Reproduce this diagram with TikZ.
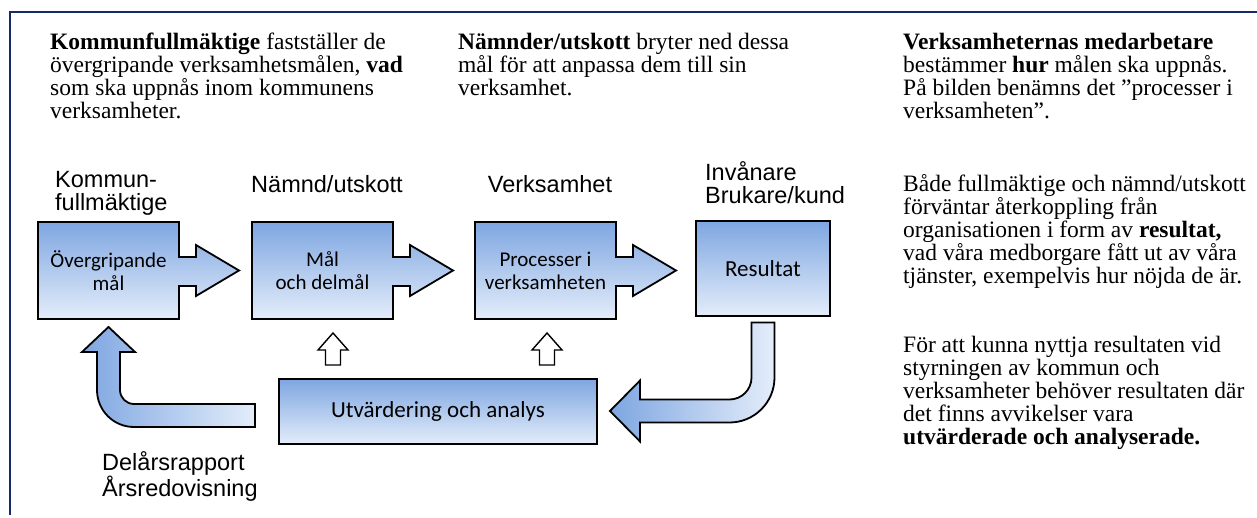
\documentclass[tikz,border=0pt]{standalone}
\usepackage{fontspec}
\setmainfont{Liberation Serif}
\newfontfamily\arialfont{Liberation Sans}
\newfontfamily\calibrifont{Carlito}
\usetikzlibrary{backgrounds}
\definecolor{navy}{RGB}{22,42,105}
\definecolor{bluetop}{RGB}{126,166,225}
\definecolor{bluebot}{RGB}{228,237,250}
\begin{document}
\begin{tikzpicture}[x=1pt, y=-1pt,
        txt/.style={anchor=north west, align=left, inner sep=0pt, font=\fontsize{23.5}{23}\selectfont},
        lbl/.style={inner sep=0pt, align=left, font=\arialfont\fontsize{23.5}{23}\selectfont},
        box/.style={inner sep=0pt, outer sep=0pt, align=center, font=\calibrifont\fontsize{21}{23}\selectfont},
        shaded/.style={draw=black, line width=1.8pt, top color=bluetop, bottom color=bluebot},
        shadedlr/.style={draw=black, line width=1.8pt, left color=bluetop, right color=bluebot},
        hollow/.style={draw=black, line width=1.4pt, fill=white}]
        \useasboundingbox (0,0) rectangle (1257,518);
        \draw[navy, line width=1.8pt] (10,515) -- (10,12) -- (1257,12);
        \node[txt] (council) at (50,33) {\textbf{Kommunfullmäktige} fastställer de\\övergripande verksamhetsmålen, \textbf{vad}\\som ska uppnås inom kommunens\\verksamheter.};
        \node[txt] (boards) at (458,33) {\textbf{Nämnder/utskott} bryter ned dessa\\mål för att anpassa dem till sin\\verksamhet.};
        \node[txt] (staff) at (903,33) {\textbf{Verksamheternas medarbetare}\\bestämmer \textbf{hur} målen ska uppnås.\\På bilden benämns det ”processer i\\verksamheten”.};
        \node[txt] (feedback) at (903,174) {Både fullmäktige och nämnd/utskott\\förväntar återkoppling från\\organisationen i form av \textbf{resultat,}\\vad våra medborgare fått ut av våra\\tjänster, exempelvis hur nöjda de är.};
        \node[txt] (evaltxt) at (903,336) {För att kunna nyttja resultaten vid\\styrningen av kommun och\\verksamheter behöver resultaten där\\det finns avvikelser vara\\\textbf{utvärderade och analyserade.}};
        \node[lbl, anchor=north west] (councillbl) at (55,171) {Kommun-\\fullmäktige};
        \node[lbl, anchor=base] (boardlbl) at (327,193) {Nämnd/utskott};
        \node[lbl, anchor=base] (unitlbl) at (550,193) {Verksamhet};
        \node[lbl, anchor=north west] (citizenlbl) at (705,161) {Invånare\\Brukare/kund};
        \node[lbl, anchor=north west] (reportlbl) at (102,451) {Delårsrapport\\Årsredovisning};
        \foreach \x/\n/\t in {108.5/goal/Övergripande\\mål, 322.5/aim/Mål\\och delmål, 545.5/proc/Processer i\\verksamheten}{
        \node[box, minimum width=141pt, minimum height=97pt] (\n) at (\x,270.5) {\t};
        }
        \node[box, minimum width=134pt, minimum height=95pt, font=\calibrifont\fontsize{23}{23}\selectfont] (res) at (763,268.5) {Resultat};
        \node[box, minimum width=318pt, minimum height=65pt, font=\calibrifont\fontsize{23}{23}\selectfont] (eval) at (438,411.5) {Utvärdering och analys};
        \begin{scope}[on background layer]
        \foreach \n in {goal,aim,proc}{
        \path[shaded] (\n.north west) -- (\n.north east) -- ++(0,35) -- ++(17,0) -- ++(0,-12) -- ++(43,25.5) -- ++(-43,25.5) -- ++(0,-10) -- ++(-17,0) -- (\n.south east) -- (\n.south west) -- cycle;
        }
        \path[shaded] (res.north west) rectangle (res.south east);
        \path[shaded] (eval.north west) rectangle (eval.south east);
        \end{scope}
        \begin{scope}[shift={(goal.south)}]
        \path[shadedlr] (0,8) -- (26.5,33) -- (11.5,33) -- (11.5,71) arc[start angle=180, end angle=90, radius=14] -- (146.5,85) -- (146.5,108) -- (25.5,108) arc[start angle=90, end angle=180, radius=37] -- (-11.5,33) -- (-26.5,33) -- cycle;
        \end{scope}
        \begin{scope}[shift={(res.south)}]
        \path[shadedlr] (-11.5,6.5) -- (11.5,6.5) -- (11.5,61.5) arc[start angle=0, end angle=90, radius=45] -- (-123,106.5) -- (-123,125.5) -- (-153,95) -- (-123,64.5) -- (-123,83.5) -- (-33.5,83.5) arc[start angle=90, end angle=0, radius=22] -- cycle;
        \end{scope}
        \foreach \x in {333,547}{
        \draw[hollow] (\x,333) -- ++(15,17) -- ++(-7.5,0) -- ++(0,15) -- ++(-15,0) -- ++(0,-15) -- ++(-7.5,0) -- cycle;
        }
\end{tikzpicture}
\end{document}
